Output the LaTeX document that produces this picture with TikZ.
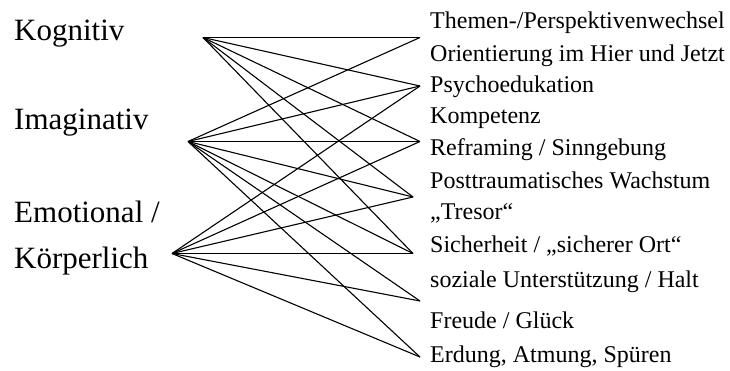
\documentclass[tikz,border=0pt]{standalone}
\usepackage{fontspec}
\setmainfont{Liberation Serif}
\begin{document}
\begin{tikzpicture}[x=1pt,y=-1pt,
  biglabel/.style={anchor=base west,inner sep=0pt,font=\fontsize{31}{36}\selectfont},
  smalllabel/.style={anchor=base west,inner sep=0pt,font=\fontsize{24}{28}\selectfont},
  link/.style={draw=black,line width=1.1pt}]
\useasboundingbox (0,0) rectangle (730,371);
% left labels
\node[biglabel] (kog) at (14,41) {Kognitiv};
\node[biglabel] (ima) at (14,130) {Imaginativ};
\node[biglabel] (emo) at (14,223) {Emotional /};
\node[biglabel] (koe) at (14,268) {Körperlich};
% right labels
\node[smalllabel] (r1) at (430,29) {Themen-/Perspektivenwechsel};
\node[smalllabel] (r2) at (430,62) {Orientierung im Hier und Jetzt};
\node[smalllabel] (r3) at (430,93) {Psychoedukation};
\node[smalllabel] (r4) at (430,124) {Kompetenz};
\node[smalllabel] (r5) at (430,156) {Reframing / Sinngebung};
\node[smalllabel] (r6) at (430,189) {Posttraumatisches Wachstum};
\node[smalllabel] (r7) at (430,220) {„Tresor“};
\node[smalllabel] (r8) at (430,252) {Sicherheit / „sicherer Ort“};
\node[smalllabel] (r9) at (430,287) {soziale Unterstützung / Halt};
\node[smalllabel] (r10) at (430,328) {Freude / Glück};
\node[smalllabel] (r11) at (430,362) {Erdung, Atmung, Spüren};
% fan points
\coordinate (sK) at (203,37.5);
\coordinate (sI) at (188,141.5);
\coordinate (sE) at (172,253.5);
\coordinate (t1) at (420,37.5);
\coordinate (t2) at (420,86);
\coordinate (t3) at (420,141.5);
\coordinate (t4) at (413,197);
\coordinate (t5) at (413,253.5);
\coordinate (t6) at (420,301);
\coordinate (t7) at (420,357);
% connectors
\foreach \t in {t1,t2,t3,t4,t5} \draw[link] (sK) -- (\t);
\foreach \t in {t1,t2,t3,t4,t5,t6,t7} \draw[link] (sI) -- (\t);
\foreach \t in {t2,t3,t4,t5,t6,t7} \draw[link] (sE) -- (\t);
\end{tikzpicture}
\end{document}
